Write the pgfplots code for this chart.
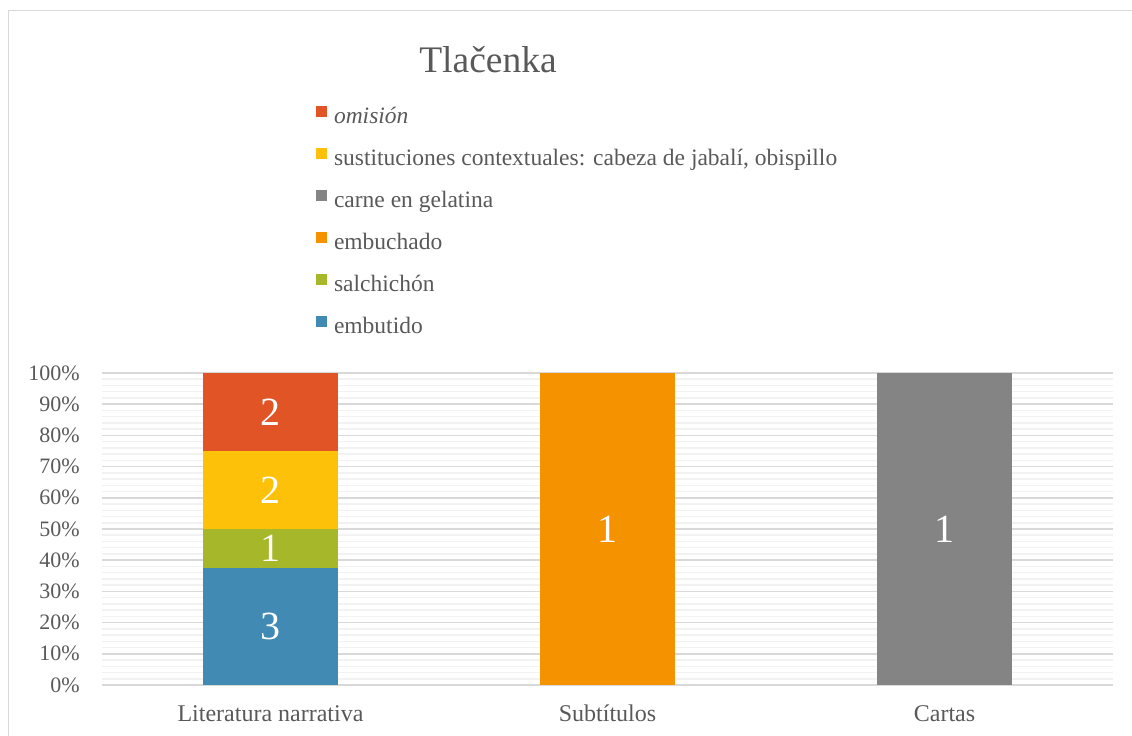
\documentclass[border=0pt]{standalone}
\usepackage{pgfplots}
\pgfplotsset{compat=1.18}
\usepackage{fontspec}
\setmainfont{Liberation Serif}

\definecolor{txt}{RGB}{89,89,89}
\definecolor{gridmaj}{RGB}{217,217,217}
\definecolor{gridmin}{RGB}{242,242,242}
\definecolor{cEmbutido}{RGB}{64,138,180}
\definecolor{cSalchichon}{RGB}{166,183,42}
\definecolor{cEmbuchado}{RGB}{244,146,0}
\definecolor{cCarne}{RGB}{132,132,132}
\definecolor{cSust}{RGB}{252,193,8}
\definecolor{cOmision}{RGB}{225,84,38}

\begin{document}
\begin{tikzpicture}
\begin{scope}[x=1bp,y=1bp]
\useasboundingbox (0,0) rectangle (1132,736);
\draw[gridmaj, line width=1.5bp] (8.5,0) -- (8.5,725.5) -- (1132,725.5);
\node[text=txt, font=\fontsize{37.5bp}{42bp}\selectfont] at (488,676) {Tlačenka};
\end{scope}

\begin{axis}[
  at={(102bp,51bp)}, anchor=south west,
  width=1011bp, height=312bp, scale only axis,
  ybar stacked, bar width=135bp,
  xmin=-0.5, xmax=2.5, ymin=0, ymax=100,
  xtick={0,1,2},
  xticklabels={Literatura narrativa,Subtítulos,Cartas},
  ytick={0,10,...,100},
  yticklabels={0\%,10\%,20\%,30\%,40\%,50\%,60\%,70\%,80\%,90\%,100\%},
  minor y tick num=4,
  ymajorgrids, yminorgrids,
  major grid style={draw=gridmaj, line width=1.5bp},
  minor grid style={draw=gridmin, line width=1.5bp},
  axis line style={draw=none},
  major tick length=0pt, minor tick length=0pt,
  tick style={draw=none},
  ticklabel style={text=txt, font=\fontsize{22bp}{26bp}\selectfont, inner sep=0pt},
  yticklabel style={anchor=east, xshift=-22bp},
  xticklabel style={anchor=north, font=\fontsize{24bp}{28bp}\selectfont, text height=17bp, yshift=-19bp},
  point meta=explicit symbolic,
  nodes near coords,
  every node near coord/.append style={text=white, font=\fontsize{40bp}{44bp}\selectfont,
    anchor=center},
  reverse legend,
  legend cell align=left,
  legend image code/.code={\fill[#1] (0bp,1.3bp) rectangle (11bp,12bp);},
  legend style={at={(axis description cs:0.2117,1.8558)}, anchor=north west,
    draw=none, fill=none, inner sep=0pt, outer sep=0pt,
    row sep=19.6bp, column sep=7bp,
    font=\fontsize{23.5bp}{27bp}\selectfont, text=txt,
    nodes={inner sep=0pt, text height=16bp, text depth=5bp}},
]
\addplot[fill=cEmbutido, draw=none] coordinates {(0,37.5) [3] (1,0) [] (2,0) []};
\addplot[fill=cSalchichon, draw=none] coordinates {(0,12.5) [1] (1,0) [] (2,0) []};
\addplot[fill=cEmbuchado, draw=none] coordinates {(0,0) [] (1,100) [1] (2,0) []};
\addplot[fill=cCarne, draw=none] coordinates {(0,0) [] (1,0) [] (2,100) [1]};
\addplot[fill=cSust, draw=none] coordinates {(0,25) [2] (1,0) [] (2,0) []};
\addplot[fill=cOmision, draw=none] coordinates {(0,25) [2] (1,0) [] (2,0) []};
\legend{embutido,salchichón,embuchado,carne en gelatina,{sustituciones contextuales: cabeza de jabalí, obispillo},{\itshape omisión}}
\end{axis}
\end{tikzpicture}
\end{document}
